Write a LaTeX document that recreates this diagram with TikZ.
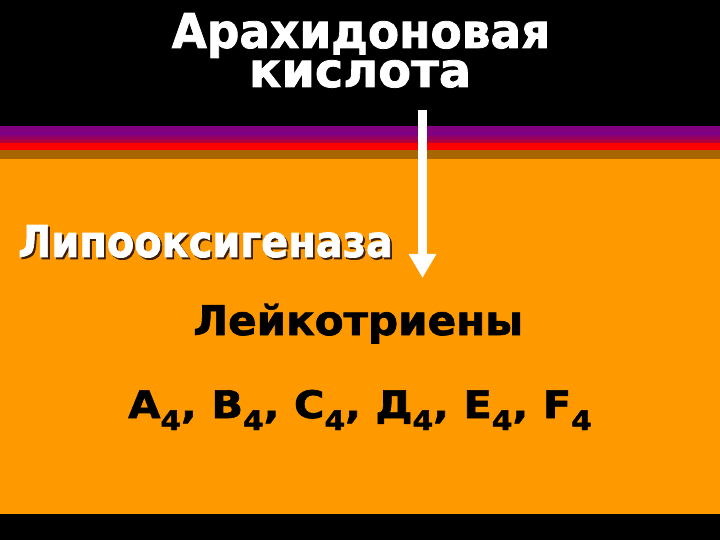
\documentclass[tikz,border=0pt]{standalone}
\usepackage{fontspec}
\setmainfont{DejaVu Sans}[BoldFont={DejaVu Sans Bold}]
\newfontfamily\heavy{DejaVu Sans Bold}[FakeBold=1.6]
\usetikzlibrary{arrows.meta}
\definecolor{bgorange}{RGB}{255,153,0}
\definecolor{bandpurple}{RGB}{128,0,128}
\definecolor{bandred}{RGB}{255,0,0}
\definecolor{banddark}{RGB}{190,0,40}
\definecolor{bandbrown}{RGB}{168,102,0}
\definecolor{shadowbrown}{RGB}{60,30,0}
\newcommand{\subf}{\raisebox{-12bp}{\fontsize{27}{27}\selectfont 4}}
\newcommand{\shadowtext}[1]{\rlap{\hspace{2bp}\raisebox{-2bp}{\color{shadowbrown}#1}}#1}
\tikzset{
  title/.style={text=white,font=\heavy\fontsize{48}{48}\selectfont,inner sep=0pt,anchor=base},
  lbl/.style={text=black,inner sep=0pt,anchor=base west},
}
\begin{document}
\begin{tikzpicture}[x=1bp,y=-1bp]
\useasboundingbox (0,0) rectangle (720,540);
\fill[black] (0,0) rectangle (720,126);
\fill[bandpurple] (0,126) rectangle (720,134);
\shade[top color=bandpurple,bottom color=banddark] (0,134) rectangle (720,143);
\fill[bandred] (0,143) rectangle (720,150);
\fill[bandbrown] (0,150) rectangle (720,159);
\fill[bgorange] (0,159) rectangle (720,514);
\fill[black] (0,514) rectangle (720,540);
\node[title] (t1) at (361,48) {\scalebox{0.95}[1]{Арахидоновая}};
\node[title] (t2) at (360,87) {кислота};
\node[lbl,text=white,font=\heavy\fontsize{44}{44}\selectfont] (enz) at (18,257) {\scalebox{0.91}[1]{\shadowtext{Липооксигеназа}}};
\node[lbl,font=\heavy\fontsize{41}{41}\selectfont] (lt) at (193,335) {\scalebox{1.03}[1]{Лейкотриены}};
\node[lbl,font=\heavy\fontsize{38}{38}\selectfont] (list) at (128,418) {\scalebox{1.1}[1]{A\subf, B\subf, C\subf, Д\subf, E\subf, F\subf}};
\coordinate (as) at (422.5,110);
\coordinate (ae) at (422.5,278);
\draw[white,line width=9bp,-{Triangle[width=26bp,length=24bp]}] (as) -- (ae);
\end{tikzpicture}
\end{document}
